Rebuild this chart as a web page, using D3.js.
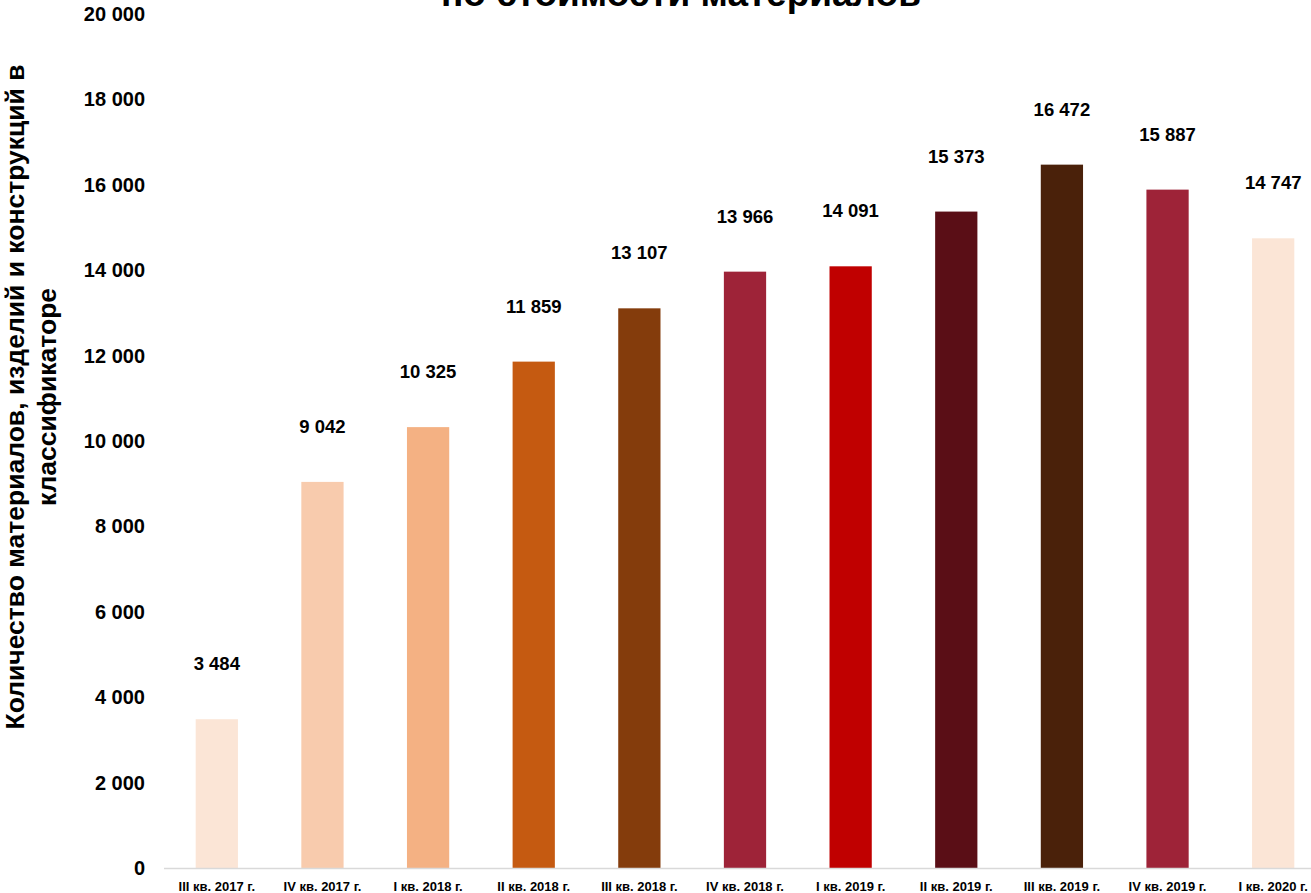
<!DOCTYPE html>
<html>
<head>
<meta charset="utf-8">
<script src="https://cdn.jsdelivr.net/npm/d3@7"></script>
<style>
  html, body { margin: 0; padding: 0; background: #fff; }
  svg { display: block; }
  text { font-family: Arial, "Liberation Sans", sans-serif; font-weight: bold; fill: #000; }
</style>
</head>
<body>
<div id="chart"></div>
<script>
(function() {
    // quarters shown on the x axis
    const quarters = [
        'III кв. 2017 г.', 'IV кв. 2017 г.', 'I кв. 2018 г.', 'II кв. 2018 г.',
        'III кв. 2018 г.', 'IV кв. 2018 г.', 'I кв. 2019 г.', 'II кв. 2019 г.',
        'III кв. 2019 г.', 'IV кв. 2019 г.', 'I кв. 2020 г.'
    ];
    // number of items in the classifier
    const counts = [3484, 9042, 10325, 11859, 13107, 13966, 14091, 15373, 16472, 15887, 14747];
    const barColors = [
        '#fbe5d6', '#f8cbad', '#f4b183', '#c55a11', '#843c0c', '#9e2338',
        '#c00000', '#5a0e16', '#4a210a', '#9e2338', '#fbe5d6'
    ];
    const yTicks = [0, 2000, 4000, 6000, 8000, 10000, 12000, 14000, 16000, 18000, 20000];

    const titleText = 'по стоимости материалов';
    const yTitleLines = ['Количество материалов, изделий и конструкций в', 'классификаторе'];

    const W = 1311, H = 893;
    const fmt = function(v) { return d3.format(',')(v).replace(/,/g, ' '); };

    var svg = d3.select('#chart').append('svg')
        .attr('width', W)
        .attr('height', H);

    var x = d3.scaleBand()
        .domain(quarters)
        .range([164, 1326])
        .paddingInner(0.6)
        .paddingOuter(0.3);

    var y = d3.scaleLinear()
        .domain([0, 20000])
        .range([868, 14]);

    // title (its first line sits above the visible area)
    svg.append('text')
        .attr('x', 681)
        .attr('y', 6)
        .attr('text-anchor', 'middle')
        .style('font-size', '37px')
        .text(titleText);

    // y axis title
    var yTitle = svg.append('text')
        .attr('transform', 'translate(0,397) rotate(-90)')
        .attr('text-anchor', 'middle')
        .style('font-size', '26.5px');
    yTitle.selectAll('tspan').data(yTitleLines).join('tspan')
        .attr('x', 0)
        .attr('y', function(d, i) { return 24 + i * 32; })
        .text(function(d) { return d; });

    // y tick labels, no axis line
    var yAxis = d3.axisLeft(y).tickValues(yTicks).tickFormat(fmt).tickSize(0).tickPadding(0);
    var gy = svg.append('g').attr('transform', 'translate(145,0)').call(yAxis);
    gy.select('.domain').remove();
    gy.selectAll('text')
        .style('font-size', '20px')
        .style('font-family', 'Arial, "Liberation Sans", sans-serif')
        .style('font-weight', 'bold')
        .attr('fill', '#000');

    // bars
    svg.append('g').selectAll('rect').data(counts).join('rect')
        .attr('x', function(d, i) { return x(quarters[i]); })
        .attr('y', function(d) { return y(d); })
        .attr('width', x.bandwidth())
        .attr('height', function(d) { return y(0) - y(d); })
        .attr('fill', function(d, i) { return barColors[i]; });

    // baseline
    svg.append('line')
        .attr('x1', 164).attr('x2', W)
        .attr('y1', y(0) + 0.5).attr('y2', y(0) + 0.5)
        .attr('stroke', '#d9d9d9')
        .attr('stroke-width', 1.5);

    // x labels
    var xAxis = d3.axisBottom(x).tickSize(0).tickPadding(0);
    var gx = svg.append('g').attr('transform', 'translate(0,' + y(0) + ')').call(xAxis);
    gx.select('.domain').remove();
    gx.selectAll('text')
        .attr('y', 23)
        .attr('dy', 0)
        .style('font-size', '13px')
        .style('font-family', 'Arial, "Liberation Sans", sans-serif')
        .style('font-weight', 'bold')
        .attr('fill', '#000');

    // value labels
    svg.append('g').selectAll('text').data(counts).join('text')
        .attr('x', function(d, i) { return x(quarters[i]) + x.bandwidth() / 2; })
        .attr('y', function(d) { return y(d) - 49; })
        .attr('text-anchor', 'middle')
        .style('font-size', '18.5px')
        .text(function(d) { return fmt(d); });
})();
</script>
</body>
</html>
